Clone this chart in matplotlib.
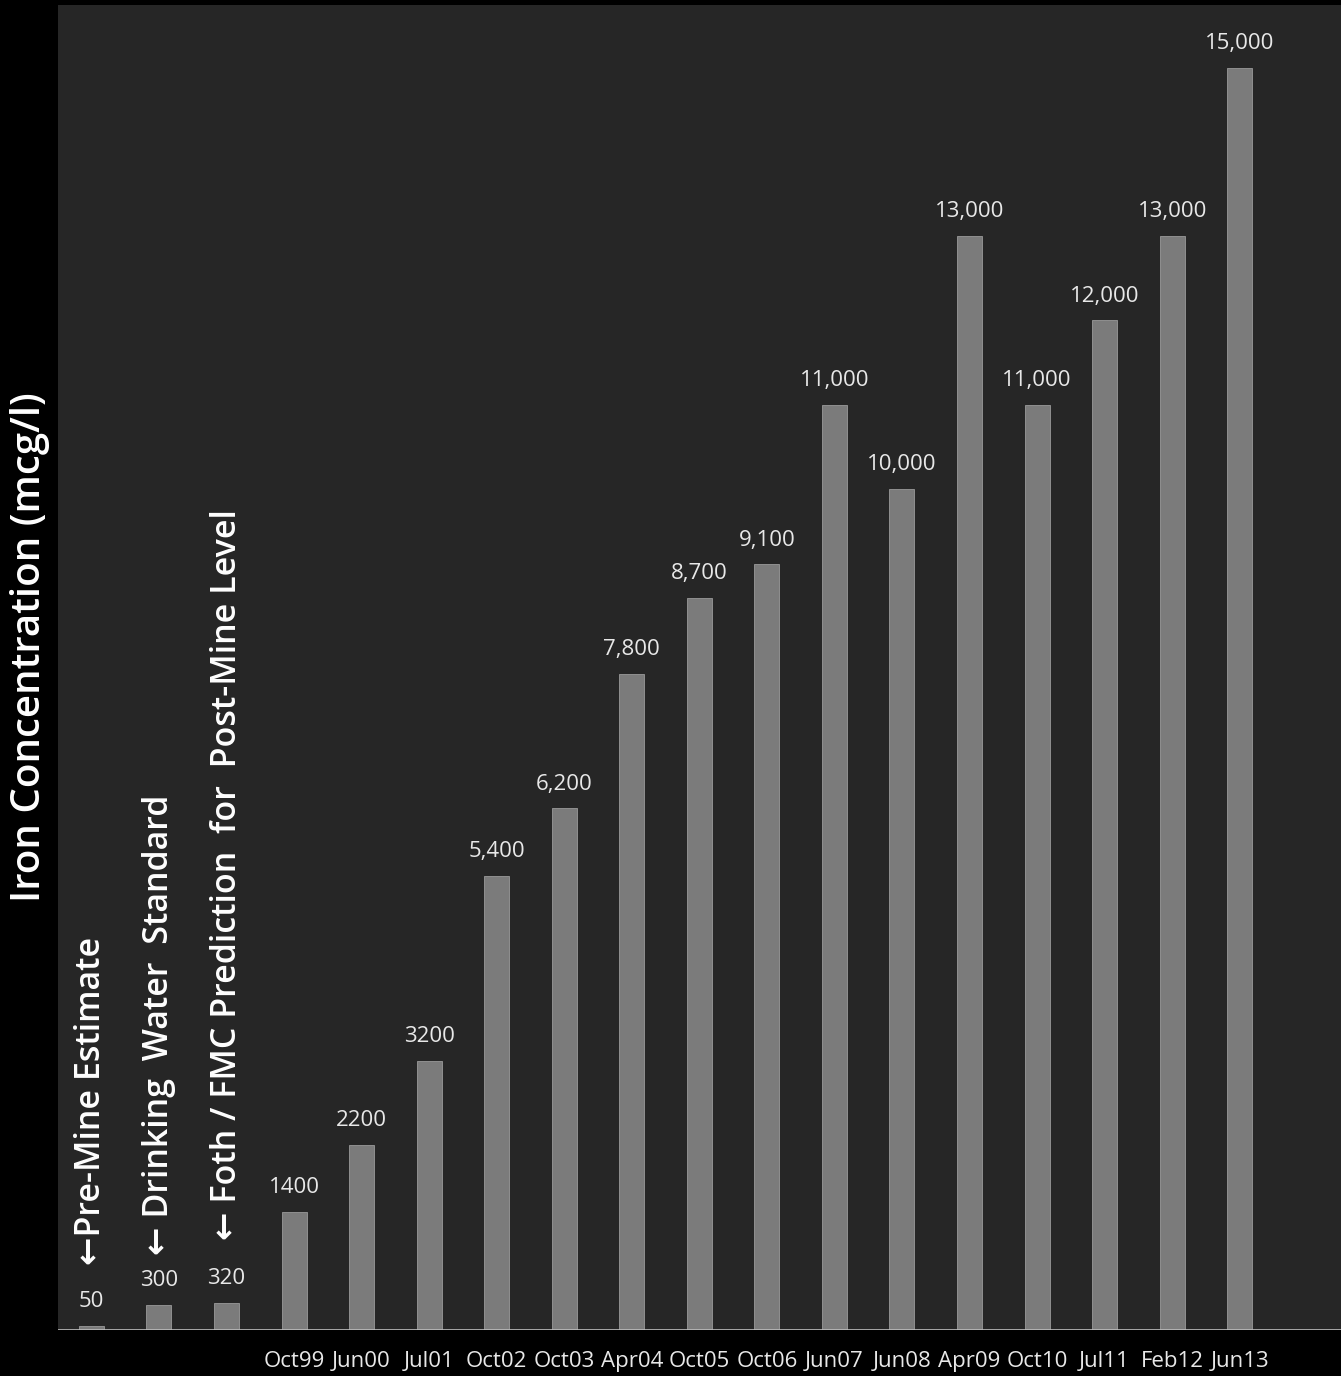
import numpy as np
import matplotlib.pyplot as plt

# iron levels (mcg/l): three reference levels, then sampled dates
ref_values = [50, 300, 320]
ref_labels = ["50", "300", "320"]
ref_notes = ["\u2190Pre-Mine Estimate",
             "\u2190 Drinking  Water  Standard",
             "\u2190 Foth / FMC Prediction  for  Post-Mine Level"]

dates = ["Oct99", "Jun00", "Jul01", "Oct02", "Oct03", "Apr04", "Oct05", "Oct06",
         "Jun07", "Jun08", "Apr09", "Oct10", "Jul11", "Feb12", "Jun13"]
iron = [1400, 2200, 3200, 5400, 6200, 7800, 8700, 9100,
        11000, 10000, 13000, 11000, 12000, 13000, 15000]
iron_labels = ["1400", "2200", "3200", "5,400", "6,200", "7,800", "8,700", "9,100",
               "11,000", "10,000", "13,000", "11,000", "12,000", "13,000", "15,000"]

plt.rcParams['font.family'] = ['Open Sans', 'DejaVu Sans']

values = ref_values + iron
labels = ref_labels + iron_labels
x = np.arange(len(values))

fig = plt.figure(figsize=(13.41, 13.76), dpi=100, facecolor='black')
ax = fig.add_axes([0.043, 0.0334, 0.957, 0.963])
ax.set_facecolor('#262626')

bars = ax.bar(x, values, width=0.37, color='#7b7b7b', edgecolor='#9a9a9a', linewidth=0.6)
for b, lab in zip(bars, labels):
    ax.annotate(lab, (b.get_x() + b.get_width() / 2, b.get_height()),
                xytext=(0, 10), textcoords='offset points',
                ha='center', va='bottom', color='#e8e8e8', fontsize=16)

# rotated notes above the reference bars
note_bottom = [1265, 1255, 1240]
for i, (note, yb) in enumerate(zip(ref_notes, note_bottom)):
    ax.text(x[i], (1330 - yb) / 84.1 * 1000, note, rotation=90,
            ha='center', va='bottom', color='white', fontsize=24.5,
            fontweight='semibold')

ax.axhline(0, color='#bdbdbd', linewidth=1.2)
ax.set_xlim(-0.5, 18.5)
ax.set_ylim(0, 15750)
ax.set_xticks(x[3:])
ax.set_xticklabels(dates, fontsize=16, color='#e8e8e8')
ax.tick_params(axis='x', length=0, pad=15)
ax.set_yticks([])
for s in ax.spines.values():
    s.set_visible(False)

fig.text(0.022, 0.53, "Iron Concentration (mcg/l)", rotation=90,
         ha='center', va='center', color='white', fontsize=29,
         fontweight='semibold')

fig.savefig('out.png', dpi=100, facecolor='black')
